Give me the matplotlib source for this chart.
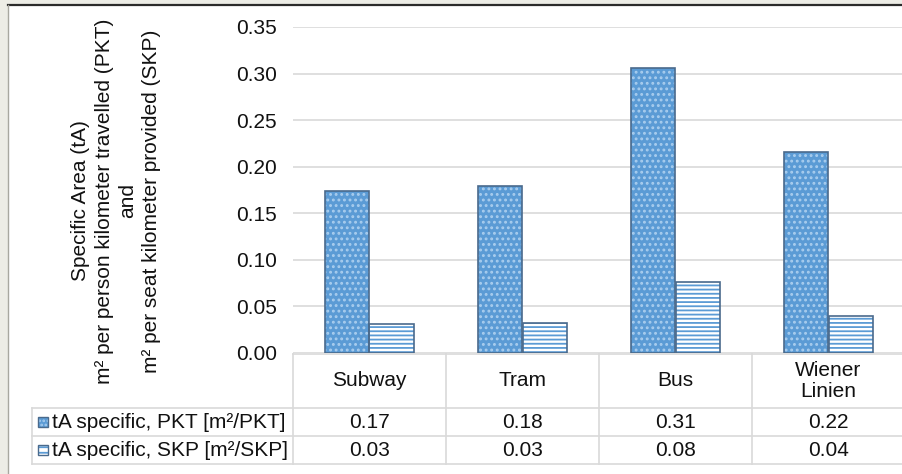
import numpy as np
import matplotlib
matplotlib.use("Agg")
import matplotlib.pyplot as plt
from matplotlib.patches import Rectangle
from matplotlib.lines import Line2D
import matplotlib.transforms as mtransforms

plt.rcParams['font.family'] = ['Liberation Sans', 'DejaVu Sans']

categories = ['Subway', 'Tram', 'Bus', 'Wiener\nLinien']
pkt_values = [0.174, 0.179, 0.306, 0.216]
skp_values = [0.031, 0.032, 0.076, 0.040]
series_names = ['tA specific, PKT [m²/PKT]', 'tA specific, SKP [m²/SKP]']
y_ticks = [0.00, 0.05, 0.10, 0.15, 0.20, 0.25, 0.30, 0.35]
y_label = ('Specific Area (tA)\nm² per person kilometer travelled (PKT)\n'
           'and\nm² per seat kilometer provided (SKP)')

W, H = 903, 474
blue = '#5b9bd5'
edge = '#4a6a8c'
grid = '#d9d9d9'
txt = '#111111'
fs = 15


def fx(px):
    return px / W


def fy(py):
    return 1 - py / H


fig = plt.figure(figsize=(W / 100, H / 100), dpi=100, facecolor='#ededE6')

# white chart area with its frame
fig.patches.append(Rectangle((fx(8), 0), 1, fy(5), transform=fig.transFigure,
                             facecolor='white', edgecolor='none', zorder=-5))
fig.add_artist(Line2D([fx(8), 1], [fy(5), fy(5)], color='#2b2b2b', lw=1.6))
fig.add_artist(Line2D([fx(8), fx(8)], [0, fy(5)], color='#a8a8a0', lw=1.0))

ax = fig.add_axes([fx(293), fy(353), 612 / W, 326 / H])
ax.set_facecolor('none')
x = np.arange(len(categories))
bw = 0.288

plt.rcParams['hatch.linewidth'] = 1.3
ax.bar(x - bw / 2, pkt_values, bw, color=blue, edgecolor='#a9cdee',
       hatch='...', linewidth=0, zorder=2)
ax.bar(x - bw / 2, pkt_values, bw, fill=False, edgecolor=edge,
       linewidth=1.2, zorder=3)
ax.bar(x + bw / 2, skp_values, bw, color='white', edgecolor=blue,
       hatch='----', linewidth=0, zorder=2)
ax.bar(x + bw / 2, skp_values, bw, fill=False, edgecolor=edge,
       linewidth=1.2, zorder=3)

ax.set_xlim(-0.5, len(categories) - 0.5)
ax.set_ylim(0, 0.35)
ax.set_yticks(y_ticks)
ax.set_yticklabels([f'{v:.2f}' for v in y_ticks], fontsize=fs, color=txt)
ax.tick_params(axis='y', length=0, pad=11.5)
ax.tick_params(axis='x', bottom=False, labelbottom=False)
ax.yaxis.grid(True, color=grid, lw=1.2)
ax.set_axisbelow(True)
for s in ax.spines.values():
    s.set_visible(False)

fig.text(fx(116), fy(201), y_label, rotation=90, ha='center', va='center',
         multialignment='center', fontsize=fs, color=txt, linespacing=1.3)

# data table below the axis
tr = mtransforms.blended_transform_factory(ax.transData, fig.transFigure)
row_lines = [354, 408, 436, 464]
for i, py in enumerate(row_lines):
    x0 = fx(293) if i == 0 else fx(32)
    fig.add_artist(Line2D([x0, 1], [fy(py), fy(py)], color=grid, lw=1.2))
fig.add_artist(Line2D([fx(32), fx(32)], [fy(408), fy(464)], color=grid, lw=1.2))
for b in np.arange(-0.5, len(categories), 1.0):
    ax.plot([b, b], [fy(354), fy(464)], transform=tr, color=grid, lw=1.2,
            clip_on=False)

for i, c in enumerate(categories):
    ax.text(i, fy(381), c, transform=tr, ha='center', va='center',
            fontsize=fs, color=txt, linespacing=1.1)
    ax.text(i, fy(422), f'{pkt_values[i]:.2f}', transform=tr, ha='center',
            va='center', fontsize=fs, color=txt)
    ax.text(i, fy(450), f'{skp_values[i]:.2f}', transform=tr, ha='center',
            va='center', fontsize=fs, color=txt)

# legend keys and series names
for py, name, key in [(422, series_names[0], 'pkt'), (450, series_names[1], 'skp')]:
    sw = 10
    if key == 'pkt':
        fig.patches.append(Rectangle((fx(38), fy(py + sw / 2)), sw / W, sw / H,
                                     transform=fig.transFigure, facecolor=blue,
                                     edgecolor='#a9cdee', hatch='....', lw=0))
    else:
        fig.patches.append(Rectangle((fx(38), fy(py + sw / 2)), sw / W, sw / H,
                                     transform=fig.transFigure, facecolor='white',
                                     edgecolor=blue, hatch='---', lw=0))
    fig.patches.append(Rectangle((fx(38), fy(py + sw / 2)), sw / W, sw / H,
                                 transform=fig.transFigure, fill=False,
                                 edgecolor=edge, lw=1.0))
    fig.text(fx(52), fy(py), name, ha='left', va='center', fontsize=fs, color=txt)

fig.savefig('out.png', dpi=100, facecolor=fig.get_facecolor())
